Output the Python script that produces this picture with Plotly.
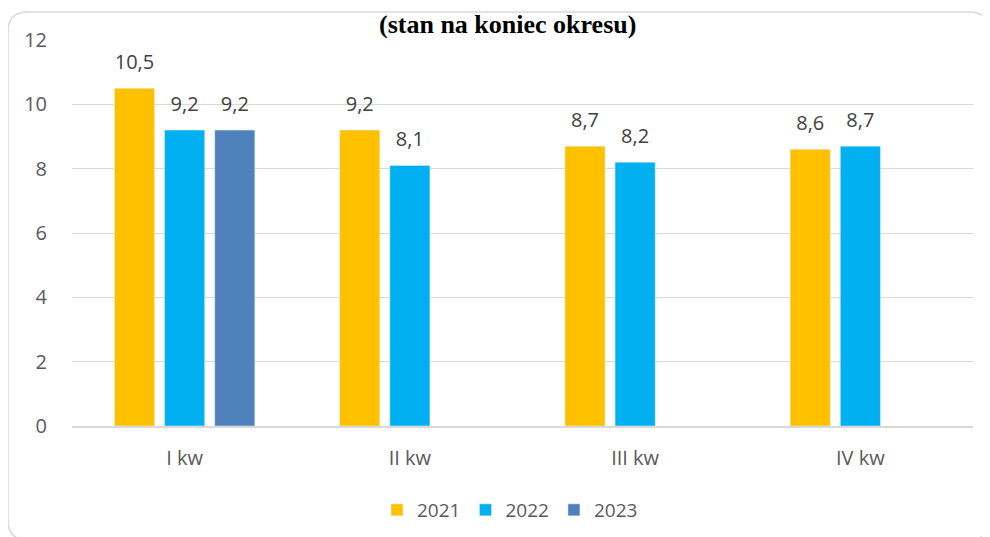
import plotly.graph_objects as go

categories = ["I kw", "II kw", "III kw", "IV kw"]
years = ["2021", "2022", "2023"]
values_2021 = [10.5, 9.2, 8.7, 8.6]
values_2022 = [9.2, 8.1, 8.2, 8.7]
values_2023 = [9.2, None, None, None]
colors = ["#FFC000", "#00B0F0", "#4F81BD"]
y_ticks = [0, 2, 4, 6, 8, 10, 12]

# page body has an 8px margin; work in screen pixels and shift
OFF = 8
W, H = 990 - OFF, 537 - OFF
ML, MR, MT, MB = 72 - OFF, 17, 40 - OFF, 111
PW, PH = W - ML - MR, H - MT - MB

def px_x(p):
    return (p - OFF - ML) / PW

def px_y(p):
    return (H - MB - (p - OFF)) / PH

fig = go.Figure()
for name, vals, col in zip(years, [values_2021, values_2022, values_2023], colors):
    fig.add_trace(go.Bar(
        name=name, x=categories, y=vals, marker_color=col,
        texttemplate="<span style='font-size:20px'>%{y:.1f}</span><br> ",
        textposition="outside",
        textfont=dict(size=10, color="#404040", family="Open Sans"),
        cliponaxis=False,
    ))

# rounded border
x0, x1 = px_x(8), px_x(989)
y0, y1 = px_y(12), px_y(540)
rx, ry = 20 / PW, 20 / PH
path = (f"M {x0+rx},{y0} L {x1-rx},{y0} Q {x1},{y0} {x1},{y0-ry} "
        f"L {x1},{y1+ry} Q {x1},{y1} {x1-rx},{y1} L {x0+rx},{y1} "
        f"Q {x0},{y1} {x0},{y1+ry} L {x0},{y0-ry} Q {x0},{y0} {x0+rx},{y0} Z")
fig.add_shape(type="path", path=path, xref="paper", yref="paper",
              line=dict(color="#D9D9D9", width=1.5), layer="below")

fig.add_annotation(text="<b>(stan na koniec okresu)</b>", xref="paper", yref="paper",
                   x=px_x(507), y=px_y(8), xanchor="center", yanchor="top",
                   showarrow=False,
                   font=dict(family="Liberation Serif", size=26, color="#000000"))

fig.update_layout(
    width=W, height=H,
    margin=dict(l=ML, r=MR, t=MT, b=MB, autoexpand=False),
    paper_bgcolor="white", plot_bgcolor="white",
    separators=", ",
    barmode="group", bargap=0.332, bargroupgap=0.2,
    font=dict(family="Open Sans", size=20, color="#595959"),
    xaxis=dict(showline=True, linecolor="#D9D9D9", linewidth=1.5, ticks="",
               tickfont=dict(size=20, color="#595959"), ticklabelstandoff=13),
    yaxis=dict(range=[0, 12], tickvals=y_ticks, showgrid=True, gridcolor="#D9D9D9",
               gridwidth=1, zeroline=False, showline=False, ticks="",
               tickfont=dict(size=20, color="#595959"), ticklabelstandoff=24),
    showlegend=True,
    legend=dict(orientation="h", x=px_x(510), xanchor="center",
                y=px_y(510), yanchor="middle", font=dict(size=19, color="#595959"),
                itemwidth=30, traceorder="normal"),
)

fig.write_html("out.html")
